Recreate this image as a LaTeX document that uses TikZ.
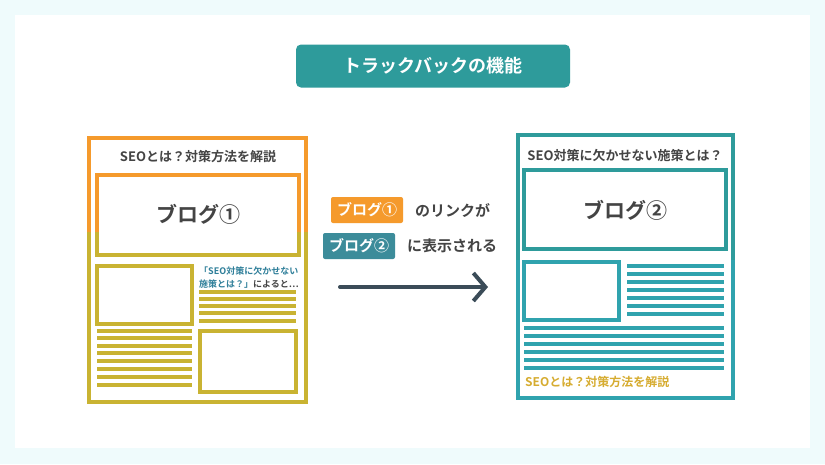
\documentclass[tikz,border=0pt]{standalone}
\usepackage{fontspec}
\newfontfamily\jp{Noto Sans CJK JP}[BoldFont={Noto Sans CJK JP Bold}]
\usetikzlibrary{arrows.meta}
\definecolor{bgc}{HTML}{EFFBFC}
\definecolor{teal1}{HTML}{2E9B9B}
\definecolor{teal2}{HTML}{3C8C9A}
\definecolor{org}{HTML}{F59A2C}
\definecolor{olv}{HTML}{C9B332}
\definecolor{txt}{HTML}{444444}
\definecolor{arr}{HTML}{3B4C58}
\definecolor{lnk}{HTML}{2F7F9A}
\tikzset{
 fr/.style={line width=3.4pt},
 ln/.style={line width=3.2pt},
 lbl/.style={font=\jp\bfseries\fontsize{13}{15}\selectfont, text=txt, inner sep=0pt},
 big/.style={font=\jp\bfseries\fontsize{21}{24}\selectfont, text=txt, inner sep=0pt},
 mid/.style={font=\jp\bfseries\fontsize{15}{17}\selectfont, text=txt, inner sep=0pt},
 tag/.style={font=\jp\bfseries\fontsize{15}{17}\selectfont, text=white, rounded corners=2pt, inner xsep=6pt, minimum height=26pt},
}
\begin{document}
\begin{tikzpicture}[x=1pt,y=-1pt]
\useasboundingbox (0,0) rectangle (825,464);
\fill[bgc] (0,0) rectangle (825,464);
\fill[white] (15,15) rectangle (810,448);
% title
\node[fill=teal1, rounded corners=5pt, minimum width=274pt, minimum height=43pt, font=\jp\bfseries\fontsize{18}{21}\selectfont, text=white] (title) at (433,66) {トラックバックの機能};
% left blog
\def\leftblog#1{
 \draw[fr,#1] (89,138) rectangle (306,402);
 \draw[fr,#1] (97,175) rectangle (299,255);
 \draw[fr,#1] (97,266) rectangle (192,324);
 \draw[fr,#1] (200,331) rectangle (296,392);
 \foreach \y in {292,299,306,313,321} \draw[ln,#1] (199,\y) -- (296,\y);
 \foreach \y in {331,338,346,353,361,369,377,385} \draw[ln,#1] (97,\y) -- (192,\y);
}
\begin{scope}\clip (0,0) rectangle (825,232); \leftblog{org} \end{scope}
\begin{scope}\clip (0,232) rectangle (825,464); \leftblog{olv} \end{scope}
\node[lbl] (lt) at (198,157) {SEOとは？対策方法を解説};
\node[big] (b1) at (198,214) {ブログ①};
\node[font=\jp\bfseries\fontsize{9}{11}\selectfont, text=lnk, inner sep=0pt, anchor=west] (l1) at (199,271) {「SEO対策に欠かせない};
\node[font=\jp\bfseries\fontsize{9}{11}\selectfont, text=lnk, inner sep=0pt, anchor=west] (l2) at (199,284) {施策とは？」\textcolor{txt}{によると…}};
% right blog
\def\rightblog#1{
 \draw[fr,#1] (518,135) rectangle (733,398);
 \draw[fr,#1] (524,170) rectangle (726,249);
 \draw[fr,#1] (524,262) rectangle (619,320);
 \foreach \y in {266,274,282,290,298,306,314} \draw[ln,#1] (627,\y) -- (724,\y);
 \foreach \y in {328,336,344,352,360,368} \draw[ln,#1] (524,\y) -- (724,\y);
}
\begin{scope}\clip (0,0) rectangle (825,260); \rightblog{teal1} \end{scope}
\begin{scope}\clip (0,260) rectangle (825,464); \rightblog{teal2!80!cyan} \end{scope}
\node[lbl] (rt) at (625,155) {SEO対策に欠かせない施策とは？};
\node[big] (b2) at (625,210) {ブログ②};
\node[font=\jp\bfseries\fontsize{12}{14}\selectfont, text=olv!70!org, inner sep=0pt, anchor=west] (rb) at (525,382) {SEOとは？対策方法を解説};
% middle
\node[tag, fill=org] (t1) at (367,210) {ブログ①};
\node[mid, anchor=west] (m1) at (415,210) {のリンクが};
\node[tag, fill=teal2] (t2) at (359,246) {ブログ②};
\node[mid, anchor=west] (m2) at (407,246) {に表示される};
\coordinate (a1) at (340,287);
\coordinate (a2) at (488,287);
\draw[arr, line width=4pt, line cap=round, -{Straight Barb[length=12pt,width=28pt,line width=4pt]}] (a1) -- (a2);
\end{tikzpicture}
\end{document}
